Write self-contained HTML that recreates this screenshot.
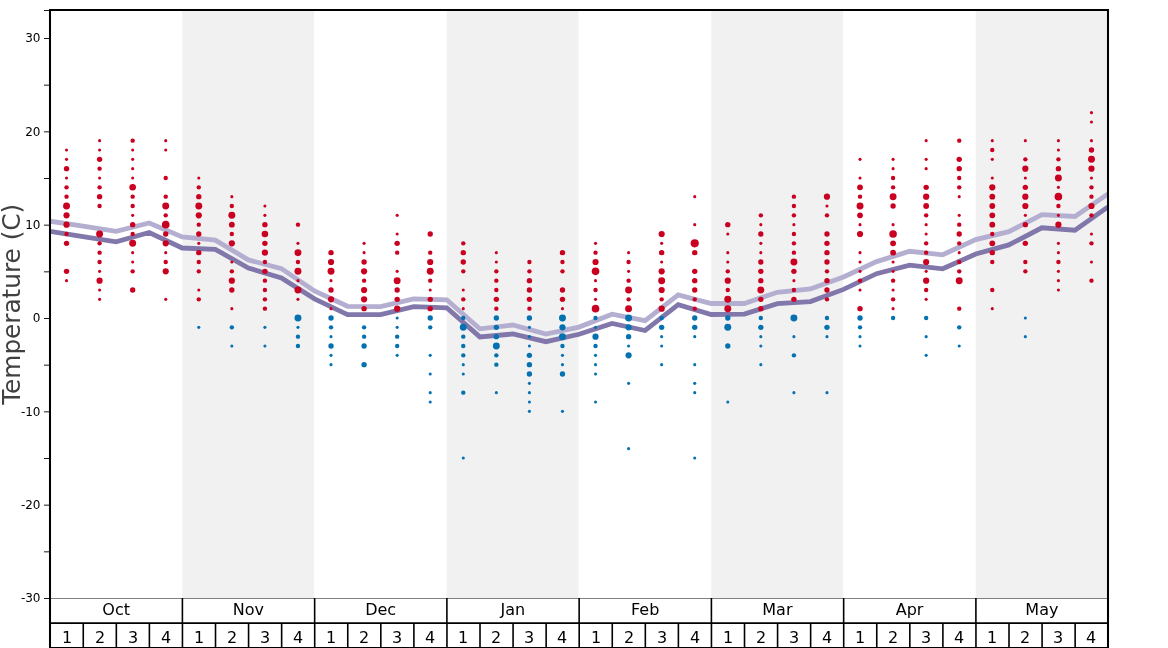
<!DOCTYPE html>
<html lang="en"><head><meta charset="utf-8"><title>Temperature (C)</title>
<style>html,body{margin:0;padding:0;background:#fff}svg{display:block;will-change:transform}text{font-family:"DejaVu Sans","Liberation Sans",sans-serif}</style></head>
<body>
<svg width="1168" height="648" viewBox="0 0 1168 648">
<rect width="1168" height="648" fill="#fff"/>
<rect x="182.25" y="10" width="131.80" height="588.3" fill="#f1f1f1"/>
<rect x="446.75" y="10" width="131.80" height="588.3" fill="#f1f1f1"/>
<rect x="711.25" y="10" width="131.80" height="588.3" fill="#f1f1f1"/>
<rect x="975.75" y="10" width="131.80" height="588.3" fill="#f1f1f1"/>
<g clip-path="url(#cp)">
<polyline points="50.00,221.20 83.06,226.20 116.12,231.40 149.19,223.00 182.25,236.90 215.31,240.10 248.38,259.90 281.44,268.60 314.50,291.00 347.56,306.30 380.62,306.70 413.69,298.90 446.75,299.80 479.81,328.80 512.88,325.00 545.94,334.00 579.00,327.10 612.06,314.20 645.12,320.70 678.19,294.90 711.25,303.50 744.31,303.50 777.38,292.30 810.44,288.90 843.50,277.00 876.56,261.60 909.62,251.30 942.69,254.80 975.75,239.60 1008.81,231.70 1041.88,214.60 1074.94,216.50 1108.00,193.90" fill="none" stroke="#b4aed0" stroke-width="4.8" stroke-linejoin="miter" stroke-linecap="butt"/>
<polyline points="50.00,231.30 83.06,236.70 116.12,241.80 149.19,232.50 182.25,248.00 215.31,249.30 248.38,268.00 281.44,277.90 314.50,298.80 347.56,314.60 380.62,314.60 413.69,306.70 446.75,307.80 479.81,336.90 512.88,334.00 545.94,341.70 579.00,334.30 612.06,323.40 645.12,330.50 678.19,304.70 711.25,314.50 744.31,314.10 777.38,303.65 810.44,301.60 843.50,289.40 876.56,273.70 909.62,265.10 942.69,268.80 975.75,254.00 1008.81,244.90 1041.88,227.80 1074.94,230.20 1108.00,206.90" fill="none" stroke="#8177ab" stroke-width="4.8" stroke-linejoin="miter" stroke-linecap="butt"/>
</g>
<defs><clipPath id="cp"><rect x="50" y="10" width="1058" height="588"/></clipPath></defs>
<g fill="#ca0020">
<circle cx="66.53" cy="150.00" r="1.55"/><circle cx="66.53" cy="159.33" r="1.55"/><circle cx="66.53" cy="168.67" r="2.68"/><circle cx="66.53" cy="178.00" r="1.55"/><circle cx="66.53" cy="187.33" r="2.19"/><circle cx="66.53" cy="196.67" r="2.19"/><circle cx="66.53" cy="206.00" r="3.47"/><circle cx="66.53" cy="215.33" r="3.10"/><circle cx="66.53" cy="224.67" r="3.10"/><circle cx="66.53" cy="234.00" r="2.19"/><circle cx="66.53" cy="243.33" r="2.68"/><circle cx="66.53" cy="271.33" r="2.68"/><circle cx="66.53" cy="280.67" r="1.55"/>
<circle cx="99.59" cy="140.67" r="1.55"/><circle cx="99.59" cy="150.00" r="1.55"/><circle cx="99.59" cy="159.33" r="2.68"/><circle cx="99.59" cy="168.67" r="2.19"/><circle cx="99.59" cy="178.00" r="1.55"/><circle cx="99.59" cy="187.33" r="2.19"/><circle cx="99.59" cy="196.67" r="2.68"/><circle cx="99.59" cy="206.00" r="2.19"/><circle cx="99.59" cy="234.00" r="3.47"/><circle cx="99.59" cy="243.33" r="2.19"/><circle cx="99.59" cy="252.67" r="2.19"/><circle cx="99.59" cy="262.00" r="2.19"/><circle cx="99.59" cy="271.33" r="1.55"/><circle cx="99.59" cy="280.67" r="3.10"/><circle cx="99.59" cy="290.00" r="1.55"/><circle cx="99.59" cy="299.33" r="1.55"/>
<circle cx="132.66" cy="140.67" r="2.19"/><circle cx="132.66" cy="150.00" r="1.55"/><circle cx="132.66" cy="159.33" r="1.55"/><circle cx="132.66" cy="168.67" r="1.55"/><circle cx="132.66" cy="178.00" r="1.55"/><circle cx="132.66" cy="187.33" r="3.29"/><circle cx="132.66" cy="196.67" r="2.19"/><circle cx="132.66" cy="206.00" r="2.19"/><circle cx="132.66" cy="215.33" r="1.55"/><circle cx="132.66" cy="224.67" r="2.68"/><circle cx="132.66" cy="234.00" r="2.19"/><circle cx="132.66" cy="243.33" r="3.47"/><circle cx="132.66" cy="252.67" r="1.55"/><circle cx="132.66" cy="262.00" r="1.55"/><circle cx="132.66" cy="271.33" r="2.19"/><circle cx="132.66" cy="290.00" r="2.68"/>
<circle cx="165.72" cy="140.67" r="1.55"/><circle cx="165.72" cy="150.00" r="1.55"/><circle cx="165.72" cy="178.00" r="2.19"/><circle cx="165.72" cy="196.67" r="2.19"/><circle cx="165.72" cy="206.00" r="3.47"/><circle cx="165.72" cy="215.33" r="2.19"/><circle cx="165.72" cy="224.67" r="3.80"/><circle cx="165.72" cy="234.00" r="2.68"/><circle cx="165.72" cy="243.33" r="3.10"/><circle cx="165.72" cy="252.67" r="1.55"/><circle cx="165.72" cy="262.00" r="2.19"/><circle cx="165.72" cy="271.33" r="3.10"/><circle cx="165.72" cy="299.33" r="1.55"/>
<circle cx="198.78" cy="178.00" r="1.55"/><circle cx="198.78" cy="187.33" r="2.19"/><circle cx="198.78" cy="196.67" r="2.68"/><circle cx="198.78" cy="206.00" r="3.47"/><circle cx="198.78" cy="215.33" r="3.10"/><circle cx="198.78" cy="224.67" r="2.19"/><circle cx="198.78" cy="234.00" r="2.68"/><circle cx="198.78" cy="243.33" r="1.55"/><circle cx="198.78" cy="252.67" r="2.68"/><circle cx="198.78" cy="262.00" r="2.19"/><circle cx="198.78" cy="271.33" r="2.19"/><circle cx="198.78" cy="290.00" r="1.55"/><circle cx="198.78" cy="299.33" r="2.19"/>
<circle cx="231.84" cy="196.67" r="1.55"/><circle cx="231.84" cy="206.00" r="2.19"/><circle cx="231.84" cy="215.33" r="3.47"/><circle cx="231.84" cy="224.67" r="2.90"/><circle cx="231.84" cy="234.00" r="2.19"/><circle cx="231.84" cy="243.33" r="3.10"/><circle cx="231.84" cy="262.00" r="1.55"/><circle cx="231.84" cy="271.33" r="2.19"/><circle cx="231.84" cy="280.67" r="3.10"/><circle cx="231.84" cy="290.00" r="2.68"/><circle cx="231.84" cy="308.67" r="1.55"/>
<circle cx="264.91" cy="206.00" r="1.55"/><circle cx="264.91" cy="215.33" r="1.55"/><circle cx="264.91" cy="224.67" r="2.68"/><circle cx="264.91" cy="234.00" r="3.29"/><circle cx="264.91" cy="243.33" r="2.68"/><circle cx="264.91" cy="252.67" r="3.10"/><circle cx="264.91" cy="262.00" r="2.19"/><circle cx="264.91" cy="271.33" r="2.68"/><circle cx="264.91" cy="280.67" r="2.19"/><circle cx="264.91" cy="290.00" r="2.19"/><circle cx="264.91" cy="299.33" r="2.19"/><circle cx="264.91" cy="308.67" r="2.19"/>
<circle cx="297.97" cy="224.67" r="2.19"/><circle cx="297.97" cy="243.33" r="1.55"/><circle cx="297.97" cy="252.67" r="3.47"/><circle cx="297.97" cy="262.00" r="2.19"/><circle cx="297.97" cy="271.33" r="3.47"/><circle cx="297.97" cy="280.67" r="1.55"/><circle cx="297.97" cy="290.00" r="3.47"/><circle cx="297.97" cy="299.33" r="1.55"/>
<circle cx="331.03" cy="252.67" r="2.68"/><circle cx="331.03" cy="262.00" r="3.10"/><circle cx="331.03" cy="271.33" r="3.47"/><circle cx="331.03" cy="280.67" r="1.55"/><circle cx="331.03" cy="290.00" r="2.68"/><circle cx="331.03" cy="299.33" r="3.10"/><circle cx="331.03" cy="308.67" r="1.55"/>
<circle cx="364.09" cy="243.33" r="1.55"/><circle cx="364.09" cy="252.67" r="1.55"/><circle cx="364.09" cy="262.00" r="2.68"/><circle cx="364.09" cy="271.33" r="3.10"/><circle cx="364.09" cy="280.67" r="2.19"/><circle cx="364.09" cy="290.00" r="3.10"/><circle cx="364.09" cy="299.33" r="3.10"/><circle cx="364.09" cy="308.67" r="2.68"/>
<circle cx="397.16" cy="215.33" r="1.55"/><circle cx="397.16" cy="234.00" r="1.55"/><circle cx="397.16" cy="243.33" r="2.68"/><circle cx="397.16" cy="252.67" r="2.19"/><circle cx="397.16" cy="271.33" r="1.55"/><circle cx="397.16" cy="280.67" r="3.47"/><circle cx="397.16" cy="290.00" r="2.68"/><circle cx="397.16" cy="299.33" r="2.68"/><circle cx="397.16" cy="308.67" r="3.10"/>
<circle cx="430.22" cy="234.00" r="2.68"/><circle cx="430.22" cy="252.67" r="2.19"/><circle cx="430.22" cy="262.00" r="3.10"/><circle cx="430.22" cy="271.33" r="3.47"/><circle cx="430.22" cy="280.67" r="2.19"/><circle cx="430.22" cy="290.00" r="1.55"/><circle cx="430.22" cy="299.33" r="2.68"/><circle cx="430.22" cy="308.67" r="2.68"/>
<circle cx="463.28" cy="243.33" r="2.19"/><circle cx="463.28" cy="252.67" r="2.68"/><circle cx="463.28" cy="262.00" r="2.68"/><circle cx="463.28" cy="271.33" r="2.19"/><circle cx="463.28" cy="290.00" r="1.55"/><circle cx="463.28" cy="299.33" r="2.19"/><circle cx="463.28" cy="308.67" r="1.55"/>
<circle cx="496.34" cy="252.67" r="1.55"/><circle cx="496.34" cy="262.00" r="1.55"/><circle cx="496.34" cy="271.33" r="2.19"/><circle cx="496.34" cy="280.67" r="2.19"/><circle cx="496.34" cy="290.00" r="2.19"/><circle cx="496.34" cy="299.33" r="2.68"/><circle cx="496.34" cy="308.67" r="2.19"/>
<circle cx="529.41" cy="262.00" r="2.19"/><circle cx="529.41" cy="271.33" r="2.19"/><circle cx="529.41" cy="280.67" r="2.68"/><circle cx="529.41" cy="290.00" r="2.68"/><circle cx="529.41" cy="299.33" r="2.68"/><circle cx="529.41" cy="308.67" r="2.19"/>
<circle cx="562.47" cy="252.67" r="2.68"/><circle cx="562.47" cy="262.00" r="2.19"/><circle cx="562.47" cy="271.33" r="2.19"/><circle cx="562.47" cy="290.00" r="2.68"/><circle cx="562.47" cy="299.33" r="2.68"/><circle cx="562.47" cy="308.67" r="1.55"/>
<circle cx="595.53" cy="243.33" r="1.55"/><circle cx="595.53" cy="252.67" r="2.19"/><circle cx="595.53" cy="262.00" r="3.10"/><circle cx="595.53" cy="271.33" r="3.80"/><circle cx="595.53" cy="280.67" r="1.55"/><circle cx="595.53" cy="290.00" r="2.19"/><circle cx="595.53" cy="299.33" r="1.55"/><circle cx="595.53" cy="308.67" r="3.80"/>
<circle cx="628.59" cy="252.67" r="1.55"/><circle cx="628.59" cy="262.00" r="2.19"/><circle cx="628.59" cy="271.33" r="1.55"/><circle cx="628.59" cy="280.67" r="2.19"/><circle cx="628.59" cy="290.00" r="3.47"/><circle cx="628.59" cy="299.33" r="2.19"/><circle cx="628.59" cy="308.67" r="3.47"/>
<circle cx="661.66" cy="234.00" r="3.10"/><circle cx="661.66" cy="243.33" r="1.55"/><circle cx="661.66" cy="252.67" r="2.68"/><circle cx="661.66" cy="262.00" r="1.55"/><circle cx="661.66" cy="271.33" r="3.10"/><circle cx="661.66" cy="280.67" r="3.47"/><circle cx="661.66" cy="290.00" r="3.10"/><circle cx="661.66" cy="299.33" r="2.19"/><circle cx="661.66" cy="308.67" r="3.10"/>
<circle cx="694.72" cy="196.67" r="1.55"/><circle cx="694.72" cy="224.67" r="1.55"/><circle cx="694.72" cy="243.33" r="4.10"/><circle cx="694.72" cy="252.67" r="2.68"/><circle cx="694.72" cy="271.33" r="2.68"/><circle cx="694.72" cy="280.67" r="2.68"/><circle cx="694.72" cy="290.00" r="2.68"/><circle cx="694.72" cy="299.33" r="2.19"/><circle cx="694.72" cy="308.67" r="2.19"/>
<circle cx="727.78" cy="224.67" r="2.68"/><circle cx="727.78" cy="234.00" r="1.55"/><circle cx="727.78" cy="252.67" r="1.55"/><circle cx="727.78" cy="262.00" r="1.55"/><circle cx="727.78" cy="271.33" r="2.19"/><circle cx="727.78" cy="280.67" r="3.10"/><circle cx="727.78" cy="290.00" r="2.19"/><circle cx="727.78" cy="299.33" r="3.47"/><circle cx="727.78" cy="308.67" r="3.47"/>
<circle cx="760.84" cy="215.33" r="2.19"/><circle cx="760.84" cy="224.67" r="1.55"/><circle cx="760.84" cy="234.00" r="2.68"/><circle cx="760.84" cy="243.33" r="1.55"/><circle cx="760.84" cy="252.67" r="1.55"/><circle cx="760.84" cy="262.00" r="2.68"/><circle cx="760.84" cy="271.33" r="2.68"/><circle cx="760.84" cy="280.67" r="2.68"/><circle cx="760.84" cy="290.00" r="3.47"/><circle cx="760.84" cy="299.33" r="2.68"/><circle cx="760.84" cy="308.67" r="2.68"/>
<circle cx="793.91" cy="196.67" r="2.19"/><circle cx="793.91" cy="206.00" r="2.19"/><circle cx="793.91" cy="215.33" r="2.19"/><circle cx="793.91" cy="224.67" r="1.55"/><circle cx="793.91" cy="234.00" r="2.19"/><circle cx="793.91" cy="243.33" r="2.19"/><circle cx="793.91" cy="252.67" r="2.19"/><circle cx="793.91" cy="262.00" r="3.47"/><circle cx="793.91" cy="271.33" r="2.68"/><circle cx="793.91" cy="280.67" r="1.55"/><circle cx="793.91" cy="290.00" r="2.19"/><circle cx="793.91" cy="299.33" r="2.68"/>
<circle cx="826.97" cy="196.67" r="3.10"/><circle cx="826.97" cy="206.00" r="1.55"/><circle cx="826.97" cy="215.33" r="2.19"/><circle cx="826.97" cy="234.00" r="2.68"/><circle cx="826.97" cy="243.33" r="2.68"/><circle cx="826.97" cy="252.67" r="2.68"/><circle cx="826.97" cy="262.00" r="2.68"/><circle cx="826.97" cy="271.33" r="2.19"/><circle cx="826.97" cy="280.67" r="2.68"/><circle cx="826.97" cy="290.00" r="2.68"/><circle cx="826.97" cy="299.33" r="2.19"/>
<circle cx="860.03" cy="159.33" r="1.55"/><circle cx="860.03" cy="178.00" r="1.55"/><circle cx="860.03" cy="187.33" r="2.90"/><circle cx="860.03" cy="196.67" r="2.19"/><circle cx="860.03" cy="206.00" r="3.47"/><circle cx="860.03" cy="215.33" r="2.90"/><circle cx="860.03" cy="224.67" r="1.55"/><circle cx="860.03" cy="234.00" r="3.10"/><circle cx="860.03" cy="252.67" r="1.55"/><circle cx="860.03" cy="262.00" r="1.55"/><circle cx="860.03" cy="271.33" r="1.55"/><circle cx="860.03" cy="280.67" r="2.19"/><circle cx="860.03" cy="290.00" r="1.55"/><circle cx="860.03" cy="308.67" r="2.68"/>
<circle cx="893.09" cy="159.33" r="1.55"/><circle cx="893.09" cy="168.67" r="1.55"/><circle cx="893.09" cy="178.00" r="2.19"/><circle cx="893.09" cy="187.33" r="2.19"/><circle cx="893.09" cy="196.67" r="3.47"/><circle cx="893.09" cy="206.00" r="2.68"/><circle cx="893.09" cy="224.67" r="1.55"/><circle cx="893.09" cy="234.00" r="3.80"/><circle cx="893.09" cy="243.33" r="2.90"/><circle cx="893.09" cy="252.67" r="2.90"/><circle cx="893.09" cy="262.00" r="1.55"/><circle cx="893.09" cy="271.33" r="1.55"/><circle cx="893.09" cy="280.67" r="2.19"/><circle cx="893.09" cy="290.00" r="1.55"/><circle cx="893.09" cy="299.33" r="2.19"/><circle cx="893.09" cy="308.67" r="1.55"/>
<circle cx="926.16" cy="140.67" r="1.55"/><circle cx="926.16" cy="159.33" r="1.55"/><circle cx="926.16" cy="168.67" r="1.55"/><circle cx="926.16" cy="187.33" r="2.68"/><circle cx="926.16" cy="196.67" r="3.10"/><circle cx="926.16" cy="206.00" r="2.90"/><circle cx="926.16" cy="215.33" r="2.19"/><circle cx="926.16" cy="224.67" r="1.55"/><circle cx="926.16" cy="234.00" r="1.55"/><circle cx="926.16" cy="243.33" r="2.19"/><circle cx="926.16" cy="252.67" r="2.19"/><circle cx="926.16" cy="262.00" r="3.10"/><circle cx="926.16" cy="271.33" r="1.55"/><circle cx="926.16" cy="280.67" r="3.10"/><circle cx="926.16" cy="290.00" r="2.19"/><circle cx="926.16" cy="299.33" r="1.55"/>
<circle cx="959.22" cy="140.67" r="2.19"/><circle cx="959.22" cy="159.33" r="2.68"/><circle cx="959.22" cy="168.67" r="2.68"/><circle cx="959.22" cy="178.00" r="2.19"/><circle cx="959.22" cy="187.33" r="2.19"/><circle cx="959.22" cy="196.67" r="1.55"/><circle cx="959.22" cy="215.33" r="1.55"/><circle cx="959.22" cy="224.67" r="2.19"/><circle cx="959.22" cy="234.00" r="2.68"/><circle cx="959.22" cy="243.33" r="2.19"/><circle cx="959.22" cy="252.67" r="1.55"/><circle cx="959.22" cy="262.00" r="2.19"/><circle cx="959.22" cy="271.33" r="2.19"/><circle cx="959.22" cy="280.67" r="3.47"/><circle cx="959.22" cy="308.67" r="2.19"/>
<circle cx="992.28" cy="140.67" r="1.55"/><circle cx="992.28" cy="150.00" r="2.19"/><circle cx="992.28" cy="159.33" r="1.55"/><circle cx="992.28" cy="178.00" r="1.55"/><circle cx="992.28" cy="187.33" r="3.10"/><circle cx="992.28" cy="196.67" r="2.90"/><circle cx="992.28" cy="206.00" r="2.90"/><circle cx="992.28" cy="215.33" r="2.90"/><circle cx="992.28" cy="224.67" r="2.90"/><circle cx="992.28" cy="234.00" r="2.19"/><circle cx="992.28" cy="243.33" r="2.90"/><circle cx="992.28" cy="252.67" r="2.68"/><circle cx="992.28" cy="262.00" r="2.19"/><circle cx="992.28" cy="290.00" r="2.19"/><circle cx="992.28" cy="308.67" r="1.55"/>
<circle cx="1025.34" cy="140.67" r="1.55"/><circle cx="1025.34" cy="159.33" r="2.19"/><circle cx="1025.34" cy="168.67" r="3.10"/><circle cx="1025.34" cy="178.00" r="1.55"/><circle cx="1025.34" cy="187.33" r="2.68"/><circle cx="1025.34" cy="196.67" r="3.10"/><circle cx="1025.34" cy="206.00" r="3.10"/><circle cx="1025.34" cy="215.33" r="1.55"/><circle cx="1025.34" cy="224.67" r="2.68"/><circle cx="1025.34" cy="243.33" r="2.68"/><circle cx="1025.34" cy="262.00" r="2.19"/><circle cx="1025.34" cy="271.33" r="2.19"/>
<circle cx="1058.41" cy="140.67" r="1.55"/><circle cx="1058.41" cy="150.00" r="1.55"/><circle cx="1058.41" cy="159.33" r="2.19"/><circle cx="1058.41" cy="168.67" r="2.68"/><circle cx="1058.41" cy="178.00" r="3.47"/><circle cx="1058.41" cy="187.33" r="1.55"/><circle cx="1058.41" cy="196.67" r="3.80"/><circle cx="1058.41" cy="206.00" r="2.19"/><circle cx="1058.41" cy="215.33" r="1.55"/><circle cx="1058.41" cy="224.67" r="3.10"/><circle cx="1058.41" cy="243.33" r="1.55"/><circle cx="1058.41" cy="252.67" r="1.55"/><circle cx="1058.41" cy="262.00" r="2.19"/><circle cx="1058.41" cy="271.33" r="1.55"/><circle cx="1058.41" cy="280.67" r="1.55"/><circle cx="1058.41" cy="290.00" r="1.55"/>
<circle cx="1091.47" cy="112.67" r="1.55"/><circle cx="1091.47" cy="122.00" r="1.55"/><circle cx="1091.47" cy="140.67" r="1.55"/><circle cx="1091.47" cy="150.00" r="2.68"/><circle cx="1091.47" cy="159.33" r="3.47"/><circle cx="1091.47" cy="168.67" r="3.10"/><circle cx="1091.47" cy="178.00" r="1.55"/><circle cx="1091.47" cy="187.33" r="2.19"/><circle cx="1091.47" cy="196.67" r="2.19"/><circle cx="1091.47" cy="206.00" r="3.10"/><circle cx="1091.47" cy="215.33" r="2.19"/><circle cx="1091.47" cy="234.00" r="1.55"/><circle cx="1091.47" cy="243.33" r="2.19"/><circle cx="1091.47" cy="262.00" r="1.55"/><circle cx="1091.47" cy="280.67" r="2.19"/>
</g>
<g fill="#0571b0">




<circle cx="198.78" cy="327.33" r="1.55"/>
<circle cx="231.84" cy="327.33" r="2.19"/><circle cx="231.84" cy="346.00" r="1.55"/>
<circle cx="264.91" cy="327.33" r="1.55"/><circle cx="264.91" cy="346.00" r="1.55"/>
<circle cx="297.97" cy="318.00" r="3.47"/><circle cx="297.97" cy="327.33" r="1.55"/><circle cx="297.97" cy="336.67" r="2.19"/><circle cx="297.97" cy="346.00" r="2.19"/>
<circle cx="331.03" cy="318.00" r="2.68"/><circle cx="331.03" cy="327.33" r="2.19"/><circle cx="331.03" cy="336.67" r="1.55"/><circle cx="331.03" cy="346.00" r="2.68"/><circle cx="331.03" cy="355.33" r="1.55"/><circle cx="331.03" cy="364.67" r="1.55"/>
<circle cx="364.09" cy="327.33" r="2.19"/><circle cx="364.09" cy="336.67" r="2.19"/><circle cx="364.09" cy="346.00" r="2.68"/><circle cx="364.09" cy="364.67" r="2.68"/>
<circle cx="397.16" cy="318.00" r="1.55"/><circle cx="397.16" cy="327.33" r="1.55"/><circle cx="397.16" cy="336.67" r="2.19"/><circle cx="397.16" cy="346.00" r="2.19"/><circle cx="397.16" cy="355.33" r="1.55"/>
<circle cx="430.22" cy="318.00" r="2.68"/><circle cx="430.22" cy="327.33" r="2.19"/><circle cx="430.22" cy="355.33" r="1.55"/><circle cx="430.22" cy="374.00" r="1.55"/><circle cx="430.22" cy="392.67" r="1.55"/><circle cx="430.22" cy="402.00" r="1.55"/>
<circle cx="463.28" cy="318.00" r="2.19"/><circle cx="463.28" cy="327.33" r="3.47"/><circle cx="463.28" cy="336.67" r="2.19"/><circle cx="463.28" cy="346.00" r="2.19"/><circle cx="463.28" cy="355.33" r="2.19"/><circle cx="463.28" cy="364.67" r="1.55"/><circle cx="463.28" cy="374.00" r="1.55"/><circle cx="463.28" cy="392.67" r="2.19"/><circle cx="463.28" cy="458.00" r="1.55"/>
<circle cx="496.34" cy="318.00" r="2.68"/><circle cx="496.34" cy="327.33" r="2.68"/><circle cx="496.34" cy="336.67" r="2.68"/><circle cx="496.34" cy="346.00" r="3.47"/><circle cx="496.34" cy="355.33" r="2.19"/><circle cx="496.34" cy="364.67" r="2.19"/><circle cx="496.34" cy="392.67" r="1.55"/>
<circle cx="529.41" cy="318.00" r="2.68"/><circle cx="529.41" cy="327.33" r="1.55"/><circle cx="529.41" cy="336.67" r="1.55"/><circle cx="529.41" cy="346.00" r="1.55"/><circle cx="529.41" cy="355.33" r="2.68"/><circle cx="529.41" cy="364.67" r="2.68"/><circle cx="529.41" cy="374.00" r="2.68"/><circle cx="529.41" cy="383.33" r="1.55"/><circle cx="529.41" cy="392.67" r="1.55"/><circle cx="529.41" cy="402.00" r="1.55"/><circle cx="529.41" cy="411.33" r="1.55"/>
<circle cx="562.47" cy="318.00" r="3.47"/><circle cx="562.47" cy="327.33" r="3.10"/><circle cx="562.47" cy="336.67" r="3.47"/><circle cx="562.47" cy="346.00" r="2.19"/><circle cx="562.47" cy="355.33" r="1.55"/><circle cx="562.47" cy="364.67" r="1.55"/><circle cx="562.47" cy="374.00" r="2.68"/><circle cx="562.47" cy="411.33" r="1.55"/>
<circle cx="595.53" cy="318.00" r="2.19"/><circle cx="595.53" cy="327.33" r="1.55"/><circle cx="595.53" cy="336.67" r="3.10"/><circle cx="595.53" cy="346.00" r="2.19"/><circle cx="595.53" cy="355.33" r="1.55"/><circle cx="595.53" cy="364.67" r="1.55"/><circle cx="595.53" cy="374.00" r="1.55"/><circle cx="595.53" cy="402.00" r="1.55"/>
<circle cx="628.59" cy="318.00" r="3.47"/><circle cx="628.59" cy="327.33" r="3.10"/><circle cx="628.59" cy="336.67" r="2.68"/><circle cx="628.59" cy="346.00" r="1.55"/><circle cx="628.59" cy="355.33" r="3.10"/><circle cx="628.59" cy="383.33" r="1.55"/><circle cx="628.59" cy="448.67" r="1.55"/>
<circle cx="661.66" cy="318.00" r="2.19"/><circle cx="661.66" cy="327.33" r="2.68"/><circle cx="661.66" cy="336.67" r="1.55"/><circle cx="661.66" cy="346.00" r="1.55"/><circle cx="661.66" cy="364.67" r="1.55"/>
<circle cx="694.72" cy="318.00" r="2.68"/><circle cx="694.72" cy="327.33" r="2.68"/><circle cx="694.72" cy="336.67" r="1.55"/><circle cx="694.72" cy="364.67" r="1.55"/><circle cx="694.72" cy="383.33" r="1.55"/><circle cx="694.72" cy="392.67" r="1.55"/><circle cx="694.72" cy="458.00" r="1.55"/>
<circle cx="727.78" cy="318.00" r="2.68"/><circle cx="727.78" cy="327.33" r="3.47"/><circle cx="727.78" cy="346.00" r="2.68"/><circle cx="727.78" cy="402.00" r="1.55"/>
<circle cx="760.84" cy="318.00" r="2.19"/><circle cx="760.84" cy="327.33" r="2.68"/><circle cx="760.84" cy="336.67" r="1.55"/><circle cx="760.84" cy="346.00" r="1.55"/><circle cx="760.84" cy="364.67" r="1.55"/>
<circle cx="793.91" cy="318.00" r="3.47"/><circle cx="793.91" cy="336.67" r="1.55"/><circle cx="793.91" cy="355.33" r="2.19"/><circle cx="793.91" cy="392.67" r="1.55"/>
<circle cx="826.97" cy="318.00" r="2.19"/><circle cx="826.97" cy="327.33" r="2.68"/><circle cx="826.97" cy="336.67" r="1.55"/><circle cx="826.97" cy="392.67" r="1.55"/>
<circle cx="860.03" cy="318.00" r="2.68"/><circle cx="860.03" cy="327.33" r="2.19"/><circle cx="860.03" cy="336.67" r="1.55"/><circle cx="860.03" cy="346.00" r="1.55"/>
<circle cx="893.09" cy="318.00" r="2.19"/>
<circle cx="926.16" cy="318.00" r="2.19"/><circle cx="926.16" cy="336.67" r="1.55"/><circle cx="926.16" cy="355.33" r="1.55"/>
<circle cx="959.22" cy="327.33" r="2.19"/><circle cx="959.22" cy="346.00" r="1.55"/>

<circle cx="1025.34" cy="318.00" r="1.55"/><circle cx="1025.34" cy="336.67" r="1.55"/>


</g>
<g stroke="#000" fill="none">
<line x1="44" y1="10.5" x2="50" y2="10.5" stroke-width="0.9"/>
<line x1="44" y1="38.50" x2="50" y2="38.50" stroke-width="0.9"/>
<line x1="44" y1="85.17" x2="50" y2="85.17" stroke-width="0.9"/>
<line x1="44" y1="131.83" x2="50" y2="131.83" stroke-width="0.9"/>
<line x1="44" y1="178.50" x2="50" y2="178.50" stroke-width="0.9"/>
<line x1="44" y1="225.17" x2="50" y2="225.17" stroke-width="0.9"/>
<line x1="44" y1="271.83" x2="50" y2="271.83" stroke-width="0.9"/>
<line x1="44" y1="318.50" x2="50" y2="318.50" stroke-width="0.9"/>
<line x1="44" y1="365.17" x2="50" y2="365.17" stroke-width="0.9"/>
<line x1="44" y1="411.83" x2="50" y2="411.83" stroke-width="0.9"/>
<line x1="44" y1="458.50" x2="50" y2="458.50" stroke-width="0.9"/>
<line x1="44" y1="505.17" x2="50" y2="505.17" stroke-width="0.9"/>
<line x1="44" y1="551.83" x2="50" y2="551.83" stroke-width="0.9"/>
<line x1="44" y1="598.50" x2="50" y2="598.50" stroke-width="0.9"/>
<line x1="50" y1="598.5" x2="1108" y2="598.5" stroke-width="1" stroke="#808080"/>
<line x1="182.40" y1="598" x2="182.40" y2="623" stroke-width="1.6"/>
<line x1="314.65" y1="598" x2="314.65" y2="623" stroke-width="1.6"/>
<line x1="446.90" y1="598" x2="446.90" y2="623" stroke-width="1.6"/>
<line x1="579.15" y1="598" x2="579.15" y2="623" stroke-width="1.6"/>
<line x1="711.40" y1="598" x2="711.40" y2="623" stroke-width="1.6"/>
<line x1="843.65" y1="598" x2="843.65" y2="623" stroke-width="1.6"/>
<line x1="975.90" y1="598" x2="975.90" y2="623" stroke-width="1.6"/>
<line x1="83.26" y1="623" x2="83.26" y2="648" stroke-width="1.6"/>
<line x1="116.33" y1="623" x2="116.33" y2="648" stroke-width="1.6"/>
<line x1="149.39" y1="623" x2="149.39" y2="648" stroke-width="1.6"/>
<line x1="182.45" y1="623" x2="182.45" y2="648" stroke-width="1.6"/>
<line x1="215.51" y1="623" x2="215.51" y2="648" stroke-width="1.6"/>
<line x1="248.57" y1="623" x2="248.57" y2="648" stroke-width="1.6"/>
<line x1="281.64" y1="623" x2="281.64" y2="648" stroke-width="1.6"/>
<line x1="314.70" y1="623" x2="314.70" y2="648" stroke-width="1.6"/>
<line x1="347.76" y1="623" x2="347.76" y2="648" stroke-width="1.6"/>
<line x1="380.82" y1="623" x2="380.82" y2="648" stroke-width="1.6"/>
<line x1="413.89" y1="623" x2="413.89" y2="648" stroke-width="1.6"/>
<line x1="446.95" y1="623" x2="446.95" y2="648" stroke-width="1.6"/>
<line x1="480.01" y1="623" x2="480.01" y2="648" stroke-width="1.6"/>
<line x1="513.08" y1="623" x2="513.08" y2="648" stroke-width="1.6"/>
<line x1="546.14" y1="623" x2="546.14" y2="648" stroke-width="1.6"/>
<line x1="579.20" y1="623" x2="579.20" y2="648" stroke-width="1.6"/>
<line x1="612.26" y1="623" x2="612.26" y2="648" stroke-width="1.6"/>
<line x1="645.33" y1="623" x2="645.33" y2="648" stroke-width="1.6"/>
<line x1="678.39" y1="623" x2="678.39" y2="648" stroke-width="1.6"/>
<line x1="711.45" y1="623" x2="711.45" y2="648" stroke-width="1.6"/>
<line x1="744.51" y1="623" x2="744.51" y2="648" stroke-width="1.6"/>
<line x1="777.58" y1="623" x2="777.58" y2="648" stroke-width="1.6"/>
<line x1="810.64" y1="623" x2="810.64" y2="648" stroke-width="1.6"/>
<line x1="843.70" y1="623" x2="843.70" y2="648" stroke-width="1.6"/>
<line x1="876.76" y1="623" x2="876.76" y2="648" stroke-width="1.6"/>
<line x1="909.83" y1="623" x2="909.83" y2="648" stroke-width="1.6"/>
<line x1="942.89" y1="623" x2="942.89" y2="648" stroke-width="1.6"/>
<line x1="975.95" y1="623" x2="975.95" y2="648" stroke-width="1.6"/>
<line x1="1009.01" y1="623" x2="1009.01" y2="648" stroke-width="1.6"/>
<line x1="1042.08" y1="623" x2="1042.08" y2="648" stroke-width="1.6"/>
<line x1="1075.14" y1="623" x2="1075.14" y2="648" stroke-width="1.6"/>
<line x1="49" y1="623.15" x2="1109" y2="623.15" stroke-width="1.8"/>
<line x1="49" y1="648" x2="1109" y2="648" stroke-width="2"/>
<line x1="50" y1="9" x2="50" y2="648" stroke-width="2.05"/>
<line x1="1108" y1="9" x2="1108" y2="648" stroke-width="2.05"/>
<line x1="49" y1="10" x2="1109" y2="10" stroke-width="2.1"/>
</g>
<g font-size="12px" fill="#000" text-anchor="end">
<text x="40.5" y="42.30">30</text>
<text x="40.5" y="135.63">20</text>
<text x="40.5" y="228.97">10</text>
<text x="40.5" y="322.30">0</text>
<text x="40.5" y="415.63">-10</text>
<text x="40.5" y="508.97">-20</text>
<text x="40.5" y="602.30">-30</text>
</g>
<text transform="translate(20.4,304.3) rotate(-90)" font-size="24.73px" fill="#404040" text-anchor="middle">Temperature (C)</text>
<g font-size="16px" fill="#000" text-anchor="middle">
<text x="116.12" y="614.7">Oct</text>
<text x="248.38" y="614.7">Nov</text>
<text x="380.62" y="614.7">Dec</text>
<text x="512.88" y="614.7">Jan</text>
<text x="645.12" y="614.7">Feb</text>
<text x="777.38" y="614.7">Mar</text>
<text x="909.62" y="614.7">Apr</text>
<text x="1041.88" y="614.7">May</text>
<text x="67.05" y="642.8">1</text>
<text x="100.05" y="642.8">2</text>
<text x="133.05" y="642.8">3</text>
<text x="166.05" y="642.8">4</text>
<text x="199.05" y="642.8">1</text>
<text x="232.05" y="642.8">2</text>
<text x="265.05" y="642.8">3</text>
<text x="298.05" y="642.8">4</text>
<text x="331.05" y="642.8">1</text>
<text x="364.05" y="642.8">2</text>
<text x="397.05" y="642.8">3</text>
<text x="430.05" y="642.8">4</text>
<text x="463.05" y="642.8">1</text>
<text x="496.05" y="642.8">2</text>
<text x="529.05" y="642.8">3</text>
<text x="562.05" y="642.8">4</text>
<text x="596.05" y="642.8">1</text>
<text x="629.05" y="642.8">2</text>
<text x="662.05" y="642.8">3</text>
<text x="695.05" y="642.8">4</text>
<text x="728.05" y="642.8">1</text>
<text x="761.05" y="642.8">2</text>
<text x="794.05" y="642.8">3</text>
<text x="827.05" y="642.8">4</text>
<text x="860.05" y="642.8">1</text>
<text x="893.05" y="642.8">2</text>
<text x="926.05" y="642.8">3</text>
<text x="959.05" y="642.8">4</text>
<text x="992.05" y="642.8">1</text>
<text x="1025.05" y="642.8">2</text>
<text x="1058.05" y="642.8">3</text>
<text x="1091.05" y="642.8">4</text>
</g>
</svg>
</body></html>
